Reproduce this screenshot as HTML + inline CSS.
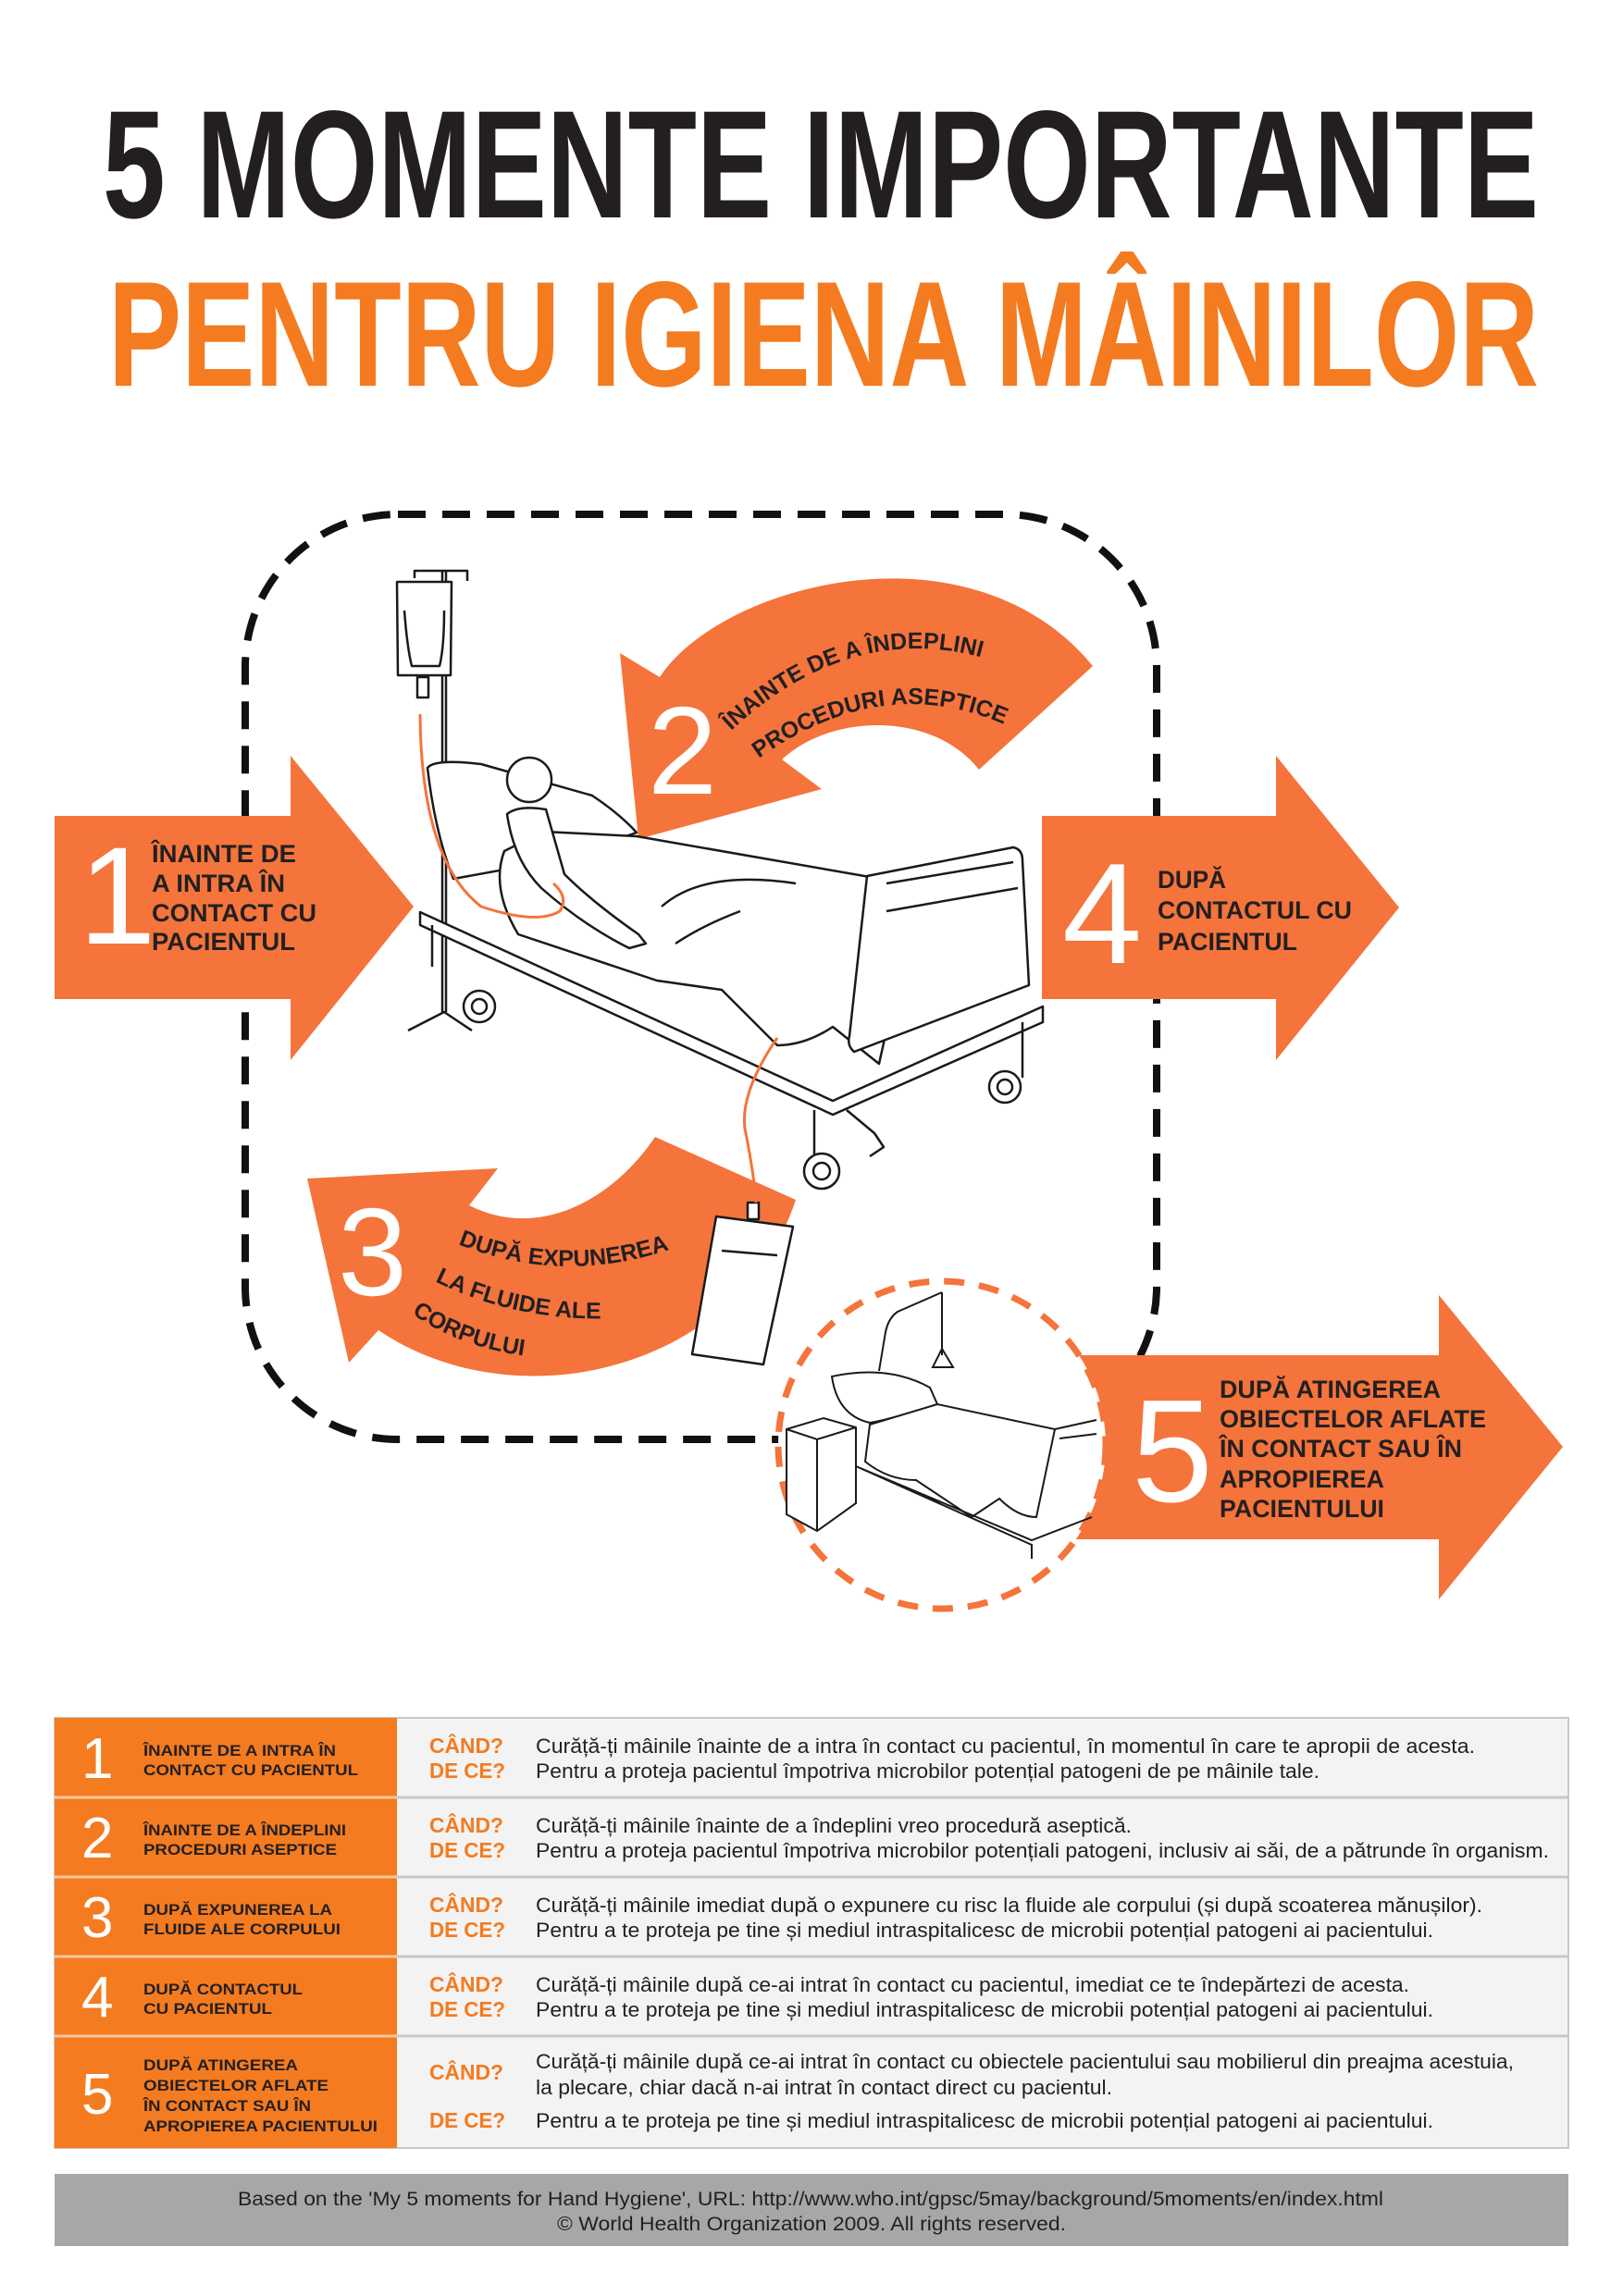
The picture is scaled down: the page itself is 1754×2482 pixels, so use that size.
<!DOCTYPE html>
<html><head><meta charset="utf-8"><style>
html,body{margin:0;padding:0;background:#fff}
svg{display:block}
text{font-family:"Liberation Sans",Arial,sans-serif}
</style></head><body>
<svg width="1754" height="2482" viewBox="0 0 1754 2482" xmlns="http://www.w3.org/2000/svg">
<!-- Title -->
<text x="111" y="235" font-size="166" font-weight="bold" fill="#231f20" textLength="1552" lengthAdjust="spacingAndGlyphs">5 MOMENTE IMPORTANTE</text>
<text x="117" y="417" font-size="162" font-weight="bold" fill="#f47b20" textLength="1546" lengthAdjust="spacingAndGlyphs">PENTRU IGIENA MÂINILOR</text>

<!-- dashed rounded square -->
<rect x="265" y="556" width="985" height="1000" rx="165" fill="none" stroke="#111" stroke-width="8" stroke-dasharray="30 18"/>

<!-- Arrow 1 -->
<polygon points="59,882 314,882 314,817 447,980 314,1146 314,1080 59,1080" fill="#f4743b"/>
<text x="85" y="1020" font-size="150" fill="#fff">1</text>
<g font-size="27" font-weight="bold" fill="#231f20">
<text x="164" y="932" textLength="156" lengthAdjust="spacingAndGlyphs">ÎNAINTE DE</text>
<text x="164" y="964" textLength="144" lengthAdjust="spacingAndGlyphs">A INTRA ÎN</text>
<text x="164" y="996" textLength="178" lengthAdjust="spacingAndGlyphs">CONTACT CU</text>
<text x="164" y="1027" textLength="155" lengthAdjust="spacingAndGlyphs">PACIENTUL</text>
</g>

<!-- Arrow 4 -->
<polygon points="1126,882 1379,882 1379,817 1512,981 1379,1146 1379,1080 1126,1080" fill="#f4743b"/>
<text x="1148" y="1041" font-size="155" fill="#fff">4</text>
<g font-size="27" font-weight="bold" fill="#231f20">
<text x="1251" y="960" textLength="74" lengthAdjust="spacingAndGlyphs">DUPĂ</text>
<text x="1251" y="993" textLength="210" lengthAdjust="spacingAndGlyphs">CONTACTUL CU</text>
<text x="1251" y="1027" textLength="151" lengthAdjust="spacingAndGlyphs">PACIENTUL</text>
</g>

<!-- Arrow 2 -->
<path d="M713 732 C780 630 1050 560 1181 720 L1058 832 C1010 770 900 770 845 821 L888 853 L690 907 L670 706 Z" fill="#f4743b"/>
<path id="p2a" d="M790 790 Q930 660 1090 720" fill="none"/>
<path id="p2b" d="M820 820 Q960 720 1100 790" fill="none"/>
<g font-size="25" font-weight="bold" fill="#231f20">
<text><textPath href="#p2a">ÎNAINTE DE A ÎNDEPLINI</textPath></text>
<text><textPath href="#p2b">PROCEDURI ASEPTICE</textPath></text>
</g>
<text x="700" y="858" font-size="135" fill="#fff">2</text>

<!-- Arrow 3 -->
<path d="M860 1297 C800 1480 560 1540 409 1438 L377 1473 L332 1274 L538 1263 L507 1303 C580 1340 660 1300 708 1229 Z" fill="#f4743b"/>
<path id="p3a" d="M495 1345 Q620 1395 752 1340" fill="none"/>
<path id="p3b" d="M470 1385 Q560 1430 670 1425" fill="none"/>
<path id="p3c" d="M445 1420 Q505 1462 590 1468" fill="none"/>
<g font-size="25" font-weight="bold" fill="#231f20">
<text><textPath href="#p3a">DUPĂ EXPUNEREA</textPath></text>
<text><textPath href="#p3b">LA FLUIDE ALE</textPath></text>
<text><textPath href="#p3c">CORPULUI</textPath></text>
</g>
<text x="365" y="1400" font-size="135" fill="#fff">3</text>

<!-- Bed illustration -->
<g fill="none" stroke="#1a1a1a" stroke-width="2.5" stroke-linejoin="round">
 <!-- IV pole -->
 <line x1="478" y1="617" x2="478" y2="1094"/><line x1="482" y1="617" x2="482" y2="1094"/>
 <path d="M441 1114 L480 1094 L510 1114"/>
 <path d="M448 625 L448 617 L505 617 L505 628"/>
 <path d="M429 629 L488 629 L487 730 L430 730 Z" fill="#fff"/>
 <path d="M437 660 Q440 700 445 720 L475 720 Q480 700 480 660"/>
 <rect x="451" y="732" width="12" height="22" fill="#fff"/>
 <!-- bed platform -->
 <path d="M454 986 L454 1000 L900 1205 L1127 1105 L1127 1088 L900 1190 Z" fill="#fff"/>
 <path d="M467 1000 L467 1045 M880 1200 L880 1260 M1105 1105 L1105 1165"/>
 <path d="M915 1200 L945 1225 L955 1240 L940 1250"/>
 <circle cx="518" cy="1088" r="17" fill="#fff"/><circle cx="518" cy="1088" r="8"/>
 <circle cx="1086" cy="1175" r="17" fill="#fff"/><circle cx="1086" cy="1175" r="8"/>
 <circle cx="888" cy="1266" r="19" fill="#fff"/><circle cx="888" cy="1266" r="9"/>
 <!-- pillow -->
 <path d="M462 830 Q470 820 520 826 L640 860 Q670 880 688 900 L600 930 L490 950 Q470 900 462 830 Z" fill="#fff"/>
 <!-- blanket -->
 <path d="M587 899 L688 904 L940 948 Q970 1000 970 1060 L950 1150 L900 1110 Q870 1130 840 1130 L780 1070 L710 1060 L560 1010 Q530 960 545 920 Z" fill="#fff"/>
 <path d="M715 980 Q760 940 860 955 M730 1020 Q760 1000 800 985"/>
 <!-- patient -->
 <circle cx="572" cy="843" r="24" fill="#fff"/>
 <path d="M548 880 Q560 870 590 875 L610 945 Q640 975 690 1010 L698 1020 L680 1025 Q630 1000 585 960 Q555 930 548 880 Z" fill="#fff"/>
 <!-- footboard -->
 <path d="M937 947 L1095 916 Q1105 918 1105 930 L1112 1065 L923 1137 Q915 1130 918 1120 Z" fill="#fff"/>
 <path d="M958 955 L1095 932 M958 985 L1100 960"/>
 <!-- urine bag -->
 <path d="M774 1315 L857 1326 L825 1475 L748 1464 Z" fill="#fff"/>
 <rect x="808" y="1300" width="12" height="18" fill="#fff"/>
 <path d="M780 1352 L840 1357"/>
</g>
<g fill="none" stroke="#f4743b" stroke-width="3">
 <path d="M454 772 Q455 930 520 980 Q580 1000 605 985 Q615 970 598 955"/>
 <path d="M840 1122 Q800 1180 805 1220 Q815 1270 817 1300"/>
</g>

<!-- Arrow 5 -->
<polygon points="1163,1465 1555,1465 1555,1400 1689,1564 1555,1729 1555,1664 1163,1664" fill="#f4743b"/>
<!-- dashed circle -->
<circle cx="1018" cy="1562" r="177" fill="#fff" stroke="#f4743b" stroke-width="7" stroke-dasharray="22 16"/>
<g fill="none" stroke="#1a1a1a" stroke-width="2">
 <path d="M1018 1397 L1018 1465 M1018 1397 L970 1418 Q960 1425 957 1440 L950 1482"/>
 <path d="M1018 1458 L1008 1478 L1030 1478 Z"/>
 <path d="M899 1488 Q960 1475 1005 1500 L1013 1518 Q960 1535 940 1538 Q905 1530 899 1488 Z" fill="#fff"/>
 <path d="M940 1540 L1013 1518 L1140 1545 L1120 1640 Q1100 1640 1080 1620 L1050 1640 Q1020 1620 990 1600 Q960 1600 935 1580 Z" fill="#fff"/>
 <path d="M925 1555 L925 1585 L1115 1665 L1180 1640 M925 1585 L1115 1670 L1115 1685"/>
 <path d="M1140 1545 L1185 1535 M1145 1555 L1185 1550"/>
 <path d="M850 1545 L890 1533 L925 1543 L925 1625 L883 1655 L850 1637 Z" fill="#fff"/>
 <path d="M883 1556 L883 1655 M850 1545 L883 1556 L925 1543"/>
</g>
<text x="1223" y="1623" font-size="158" fill="#fff">5</text>
<g font-size="27" font-weight="bold" fill="#231f20">
<text x="1318" y="1511" textLength="239" lengthAdjust="spacingAndGlyphs">DUPĂ ATINGEREA</text>
<text x="1318" y="1543" textLength="288" lengthAdjust="spacingAndGlyphs">OBIECTELOR AFLATE</text>
<text x="1318" y="1575" textLength="262" lengthAdjust="spacingAndGlyphs">ÎN CONTACT SAU ÎN</text>
<text x="1318" y="1608" textLength="178" lengthAdjust="spacingAndGlyphs">APROPIEREA</text>
<text x="1318" y="1640" textLength="178" lengthAdjust="spacingAndGlyphs">PACIENTULUI</text>
</g>

<!-- Table -->
<rect x="59" y="1857" width="1636" height="465" fill="#f3f3f3" stroke="#c8c8c8" stroke-width="2"/>
<rect x="59" y="1857" width="370" height="465" fill="#f47b20"/>
<g stroke="#c8c8c8" stroke-width="3"><line x1="429" y1="1943" x2="1695" y2="1943"/><line x1="429" y1="2029" x2="1695" y2="2029"/><line x1="429" y1="2115" x2="1695" y2="2115"/><line x1="429" y1="2201" x2="1695" y2="2201"/></g>
<g stroke="#f8c9a0" stroke-width="3"><line x1="59" y1="1943" x2="429" y2="1943"/><line x1="59" y1="2029" x2="429" y2="2029"/><line x1="59" y1="2115" x2="429" y2="2115"/><line x1="59" y1="2201" x2="429" y2="2201"/></g>

<g font-size="62" fill="#fff">
<text x="88" y="1922">1</text><text x="88" y="2008">2</text><text x="88" y="2094">3</text><text x="88" y="2180">4</text><text x="88" y="2285">5</text>
</g>
<g font-size="17" font-weight="bold" fill="#231f20" lengthAdjust="spacingAndGlyphs">
<text x="155" y="1898" textLength="208" lengthAdjust="spacingAndGlyphs">ÎNAINTE DE A INTRA ÎN</text>
<text x="155" y="1919" textLength="232" lengthAdjust="spacingAndGlyphs">CONTACT CU PACIENTUL</text>
<text x="155" y="1984" textLength="219" lengthAdjust="spacingAndGlyphs">ÎNAINTE DE A ÎNDEPLINI</text>
<text x="155" y="2005" textLength="209" lengthAdjust="spacingAndGlyphs">PROCEDURI ASEPTICE</text>
<text x="155" y="2070" textLength="204" lengthAdjust="spacingAndGlyphs">DUPĂ EXPUNEREA LA</text>
<text x="155" y="2091" textLength="213" lengthAdjust="spacingAndGlyphs">FLUIDE ALE CORPULUI</text>
<text x="155" y="2156" textLength="172" lengthAdjust="spacingAndGlyphs">DUPĂ CONTACTUL</text>
<text x="155" y="2177" textLength="139" lengthAdjust="spacingAndGlyphs">CU PACIENTUL</text>
<text x="155" y="2238" textLength="167" lengthAdjust="spacingAndGlyphs">DUPĂ ATINGEREA</text>
<text x="155" y="2260" textLength="200" lengthAdjust="spacingAndGlyphs">OBIECTELOR AFLATE</text>
<text x="155" y="2282" textLength="181" lengthAdjust="spacingAndGlyphs">ÎN CONTACT SAU ÎN</text>
<text x="155" y="2304" textLength="253" lengthAdjust="spacingAndGlyphs">APROPIEREA PACIENTULUI</text>
</g>
<g font-size="23" font-weight="bold" fill="#f47b20">
<text x="464" y="1895" textLength="80" lengthAdjust="spacingAndGlyphs">CÂND?</text>
<text x="464" y="1922" textLength="82" lengthAdjust="spacingAndGlyphs">DE CE?</text>
<text x="464" y="1981" textLength="80" lengthAdjust="spacingAndGlyphs">CÂND?</text>
<text x="464" y="2008" textLength="82" lengthAdjust="spacingAndGlyphs">DE CE?</text>
<text x="464" y="2067" textLength="80" lengthAdjust="spacingAndGlyphs">CÂND?</text>
<text x="464" y="2094" textLength="82" lengthAdjust="spacingAndGlyphs">DE CE?</text>
<text x="464" y="2153" textLength="80" lengthAdjust="spacingAndGlyphs">CÂND?</text>
<text x="464" y="2180" textLength="82" lengthAdjust="spacingAndGlyphs">DE CE?</text>
<text x="464" y="2248" textLength="80" lengthAdjust="spacingAndGlyphs">CÂND?</text>
<text x="464" y="2300" textLength="82" lengthAdjust="spacingAndGlyphs">DE CE?</text>
</g>
<g font-size="22" fill="#231f20">
<text x="579" y="1895" textLength="1015" lengthAdjust="spacingAndGlyphs">Curăță-ți mâinile înainte de a intra în contact cu pacientul, în momentul în care te apropii de acesta.</text>
<text x="579" y="1922" textLength="847" lengthAdjust="spacingAndGlyphs">Pentru a proteja pacientul împotriva microbilor potențial patogeni de pe mâinile tale.</text>
<text x="579" y="1981" textLength="644" lengthAdjust="spacingAndGlyphs">Curăță-ți mâinile înainte de a îndeplini vreo procedură aseptică.</text>
<text x="579" y="2008" textLength="1095" lengthAdjust="spacingAndGlyphs">Pentru a proteja pacientul împotriva microbilor potențiali patogeni, inclusiv ai săi, de a pătrunde în organism.</text>
<text x="579" y="2067" textLength="1023" lengthAdjust="spacingAndGlyphs">Curăță-ți mâinile imediat după o expunere cu risc la fluide ale corpului (și după scoaterea mănușilor).</text>
<text x="579" y="2094" textLength="970" lengthAdjust="spacingAndGlyphs">Pentru a te proteja pe tine și mediul intraspitalicesc de microbii potențial patogeni ai pacientului.</text>
<text x="579" y="2153" textLength="944" lengthAdjust="spacingAndGlyphs">Curăță-ți mâinile după ce-ai intrat în contact cu pacientul, imediat ce te îndepărtezi de acesta.</text>
<text x="579" y="2180" textLength="970" lengthAdjust="spacingAndGlyphs">Pentru a te proteja pe tine și mediul intraspitalicesc de microbii potențial patogeni ai pacientului.</text>
<text x="579" y="2236" textLength="1057" lengthAdjust="spacingAndGlyphs">Curăță-ți mâinile după ce-ai intrat în contact cu obiectele pacientului sau mobilierul din preajma acestuia,</text>
<text x="579" y="2264" textLength="623" lengthAdjust="spacingAndGlyphs">la plecare, chiar dacă n-ai intrat în contact direct cu pacientul.</text>
<text x="579" y="2300" textLength="970" lengthAdjust="spacingAndGlyphs">Pentru a te proteja pe tine și mediul intraspitalicesc de microbii potențial patogeni ai pacientului.</text>
</g>

<!-- Footer -->
<rect x="59" y="2350" width="1636" height="78" fill="#a7a7a8"/>
<g font-size="21" fill="#231f20">
<text x="257" y="2384" textLength="1238" lengthAdjust="spacingAndGlyphs">Based on the 'My 5 moments for Hand Hygiene', URL: http://www.who.int/gpsc/5may/background/5moments/en/index.html</text>
<text x="602" y="2411" textLength="550" lengthAdjust="spacingAndGlyphs">© World Health Organization 2009. All rights reserved.</text>
</g>
</svg>
</body></html>
